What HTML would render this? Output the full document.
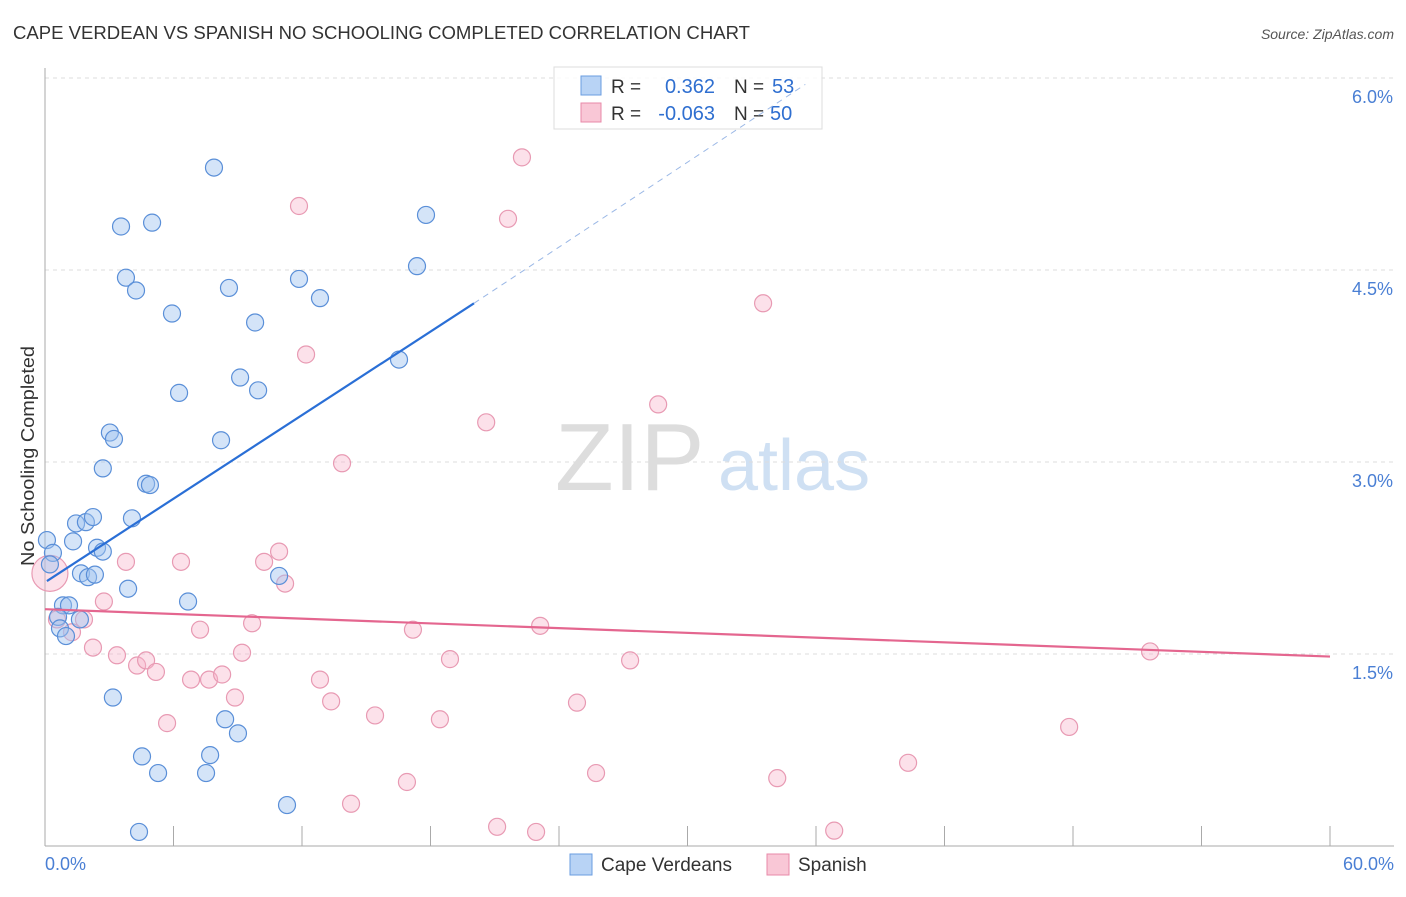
<!DOCTYPE html>
<html><head><meta charset="utf-8"><style>
body{margin:0;background:#fff;font-family:"Liberation Sans",sans-serif;}
svg text{font-family:"Liberation Sans",sans-serif;}
</style></head><body>
<svg id="chart" width="1406" height="892" viewBox="0 0 1406 892" xmlns="http://www.w3.org/2000/svg">
<text x="13" y="39" font-size="18" fill="#333" textLength="737" lengthAdjust="spacingAndGlyphs">CAPE VERDEAN VS SPANISH NO SCHOOLING COMPLETED CORRELATION CHART</text>
<text x="1394" y="39" font-size="14" fill="#555" font-style="italic" text-anchor="end">Source: ZipAtlas.com</text>
<text x="34" y="456" font-size="18" fill="#333" text-anchor="middle" textLength="220" lengthAdjust="spacingAndGlyphs" transform="rotate(-90 34 456)">No Schooling Completed</text>
<g><text x="555" y="490" font-size="96" fill="#ddd" font-family="Liberation Serif">ZIP</text><text x="718" y="490" font-size="72" fill="#cfe0f3">atlas</text></g>
<g id="grid"></g><g id="axes"></g><g id="marks"></g>
<g>
<rect x="554" y="67" width="268" height="62" fill="#fff" fill-opacity="0.8" stroke="#ddd"/>
<rect x="581" y="76" width="20" height="19" fill="#b8d3f5" stroke="#6a9de0"/>
<rect x="581" y="103" width="20" height="19" fill="#f9c7d6" stroke="#e88aa8"/>
<text x="611" y="93" font-size="19" fill="#333">R =</text><text x="715" y="93" font-size="20" fill="#2f6fd0" text-anchor="end">0.362</text>
<text x="734" y="93" font-size="19" fill="#333">N =</text><text x="772" y="93" font-size="20" fill="#2f6fd0">53</text>
<text x="611" y="120" font-size="19" fill="#333">R =</text><text x="715" y="120" font-size="20" fill="#2f6fd0" text-anchor="end">-0.063</text>
<text x="734" y="120" font-size="19" fill="#333">N =</text><text x="770" y="120" font-size="20" fill="#2f6fd0">50</text>
</g>
<g id="lines"></g>
<g>
<rect x="570" y="854" width="22" height="21" fill="#b8d3f5" stroke="#6a9de0"/><text x="601" y="871" font-size="19" fill="#333">Cape Verdeans</text>
<rect x="767" y="854" width="22" height="21" fill="#f9c7d6" stroke="#e88aa8"/><text x="798" y="871" font-size="19" fill="#333">Spanish</text>
</g>
</svg>
<script>
const yTicks=[1.5,3.0,4.5,6.0];
const yTickLabels=["1.5%","3.0%","4.5%","6.0%"];
const xTickCount=10;
const blueX=[0.09,0.37,0.23,1.31,1.45,1.91,2.24,2.43,2.70,1.68,2.01,2.33,0.84,1.12,0.61,0.70,0.98,1.63,3.88,4.06,2.70,3.03,3.22,4.72,4.90,3.17,4.53,5.28,4.39,6.26,5.93,3.78,4.25,3.55,5.00,7.89,8.59,9.81,9.11,9.95,8.22,6.68,8.41,9.01,7.71,7.52,10.93,11.30,11.86,12.84,16.53,17.37,17.79];
const blueY=[2.39,2.29,2.20,2.38,2.52,2.53,2.57,2.33,2.30,2.13,2.10,2.12,1.88,1.88,1.79,1.70,1.64,1.77,2.01,2.56,2.95,3.23,3.18,2.83,2.82,1.16,0.70,0.57,0.11,3.54,4.16,4.44,4.34,4.84,4.87,5.30,4.36,4.09,3.66,3.56,3.17,1.91,0.99,0.88,0.71,0.57,2.11,0.32,4.43,4.28,3.80,4.53,4.93];
const pinkX=[0.23,0.56,1.26,1.82,2.24,2.75,3.36,3.78,4.30,4.72,5.18,5.70,6.35,6.82,7.24,7.66,8.27,8.87,9.20,9.67,10.23,10.93,11.21,12.19,11.86,12.84,13.36,13.87,14.29,15.41,16.90,17.18,18.44,18.91,20.60,21.11,21.62,22.27,22.93,23.12,24.84,25.73,27.32,28.63,33.53,34.19,36.85,40.30,47.82,51.60];
const pinkY=[2.13,1.77,1.67,1.77,1.55,1.91,1.49,2.22,1.41,1.45,1.36,0.96,2.22,1.30,1.69,1.30,1.34,1.16,1.51,1.74,2.22,2.30,2.05,3.84,5.00,1.30,1.13,2.99,0.33,1.02,0.50,1.69,0.99,1.46,3.31,0.15,4.90,5.38,0.11,1.72,1.12,0.57,1.45,3.45,4.24,0.53,0.12,0.65,0.93,1.52];
const pinkR=[18].concat(Array(49).fill(8.5));
const blueFitX=[0.09,20.03,35.5];
const blueFitY=[2.07,4.24,5.95];
const pinkFitX=[0,60];
const pinkFitY=[1.85,1.48];
const X=v=>45+v/60*1285;
const Y=v=>846-v*128;
const NS="http://www.w3.org/2000/svg";
function mk(t,a,p){const e=document.createElementNS(NS,t);for(const k in a)e.setAttribute(k,a[k]);p.appendChild(e);return e;}
const grid=document.getElementById('grid'),axes=document.getElementById('axes'),marks=document.getElementById('marks'),lines=document.getElementById('lines');
yTicks.forEach((t,i)=>{
 const l=mk('line',{x1:45,x2:1394,y1:Y(t),y2:Y(t),stroke:'#ddd','stroke-dasharray':'4 4'},grid);
 
 
 const tx=mk('text',{x:1393,y:Y(t)+25,'font-size':18,fill:'#4a7fd4','text-anchor':'end'},axes);
 tx.textContent=yTickLabels[i];
 
 
});
const ax=mk('line',{x1:45,x2:1394,y1:846,y2:846,stroke:'#aaa'},axes);


const ay=mk('line',{x1:45,x2:45,y1:68,y2:846,stroke:'#aaa'},axes);


for(let i=0;i<=xTickCount;i++){
 const x=X(i*60/xTickCount);
 const t=mk('line',{x1:x,x2:x,y1:826,y2:846,stroke:'#aaa'},axes);
 
 
}
const xl0=mk('text',{x:45,y:870,'font-size':18,fill:'#4a7fd4'},axes);xl0.textContent='0.0%';


const xl1=mk('text',{x:1394,y:870,'font-size':18,fill:'#4a7fd4','text-anchor':'end'},axes);xl1.textContent='60.0%';


pinkX.forEach((v,i)=>{
 const c=mk('circle',{cx:X(v),cy:Y(pinkY[i]),r:pinkR[i],fill:'rgba(247,180,203,0.4)',stroke:'#e89ab3','stroke-width':1.2},marks);
 
 
});
blueX.forEach((v,i)=>{
 const c=mk('circle',{cx:X(v),cy:Y(blueY[i]),r:8.5,fill:'rgba(160,196,240,0.45)',stroke:'#5a8fd8','stroke-width':1.2},marks);
 
 
});
const b1=mk('line',{x1:X(blueFitX[0]),y1:Y(blueFitY[0]),x2:X(blueFitX[1]),y2:Y(blueFitY[1]),stroke:'#2a6fd6','stroke-width':2.2},lines);


const b2=mk('line',{x1:X(blueFitX[1]),y1:Y(blueFitY[1]),x2:X(blueFitX[2]),y2:Y(blueFitY[2]),stroke:'#9bb8e6','stroke-width':1,'stroke-dasharray':'6 5'},lines);


const p1=mk('line',{x1:X(pinkFitX[0]),y1:Y(pinkFitY[0]),x2:X(pinkFitX[1]),y2:Y(pinkFitY[1]),stroke:'#e4668f','stroke-width':2.2},lines);


</script>
</body></html>
